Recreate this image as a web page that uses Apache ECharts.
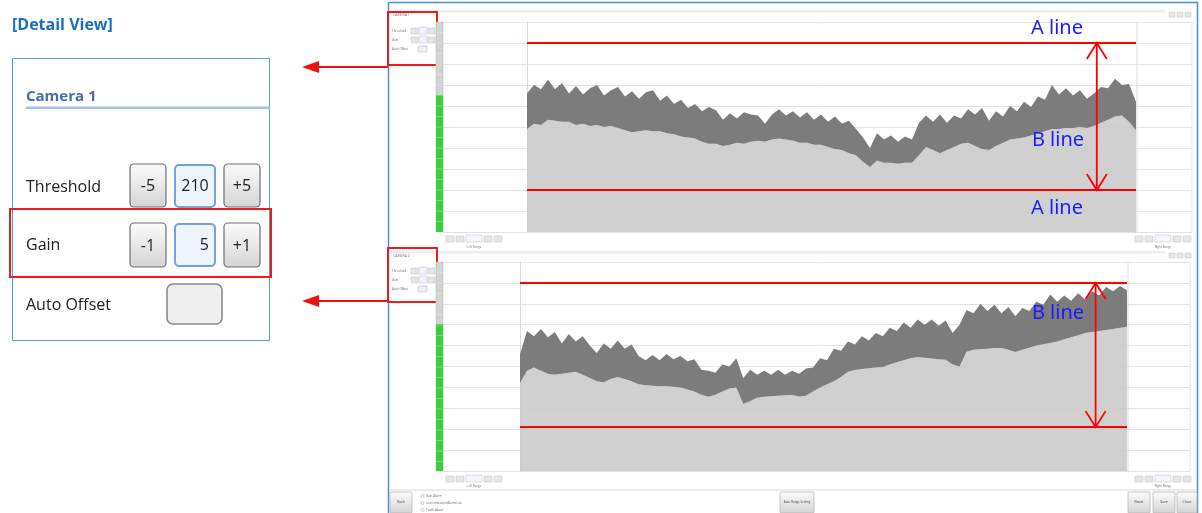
<!DOCTYPE html>
<html><head><meta charset="utf-8">
<script src="https://cdn.jsdelivr.net/npm/echarts@6.0.0/dist/echarts.min.js"></script>
<style>html,body{margin:0;padding:0;background:#fff;}#c{width:1202px;height:513px;}</style>
</head><body><div id="c"></div><script>
// ---- data (y scale 0..100, 10 grid rows) ----
const c1Upper = [66,70,68,72.5,68,71,66,69.5,65.5,68.5,
  70,65,67.5,69,64.5,67,63.5,66.5,67.5,62.5,
  65,61,63,59,61,57.5,59.5,58,53.5,56.5,
  54,57,56,55.5,51.5,56,58.5,55.5,57.5,54.5,
  57,53.5,56,52.5,55,51.5,53,49,45,40,
  47,44,46,43,45.5,44,52,55.5,52.5,56,
  52,55.5,54,58.5,56,59,53,57.5,55,60,
  57.5,62,59.5,64.5,63,70,65.5,68.5,65,67.5,
  63.5,66,69,68.5,73,70,70.5,62];
const c1Lower = [49,51.5,51,53.5,53,52.5,52.5,51,51.5,50.5,
  51,50,50.5,49.5,48.5,47.5,48,48.5,48,48,
  47,46.5,45.5,45,44.5,43,42,42,41,41.5,
  42.5,42,43,43.5,43,44,44.5,44,43.5,42.5,
  42.5,41.5,41.5,40.5,39.5,39,37.5,36.5,33.5,31,
  34,33,33,32.5,33,33,36.5,40.5,39,37.5,
  39,40.5,42,42.5,41,39.5,39,41,42.5,44,
  44.5,45,46,47,48,49,49,49.5,49.5,50,
  49.5,50.5,52,53.5,55,55.5,52.5,48.5];
const c2Upper = [56,67,64.5,68,64,66.5,61,65.5,62,64.5,
  60,56.5,61,58.5,62.5,58.5,60.5,55,53,55.5,
  53,56,53.5,55,52.5,53.5,48.5,48,47,51,
  50,54,44.5,48.5,46,48,46,48.5,46,48,
  46.5,49,49.5,54,53,58.5,57.5,62,60.5,64.5,
  62.5,66,64.5,68.5,67,71,68.5,72.5,70,72.5,
  69.5,72,66,70,77,75.5,80,76.5,79.5,75.5,
  78.5,74,78,76.5,81,79.5,84.5,81,84,81.5,
  85,82,86,84,88,86,88.5,86.5];
const c2Lower = [42,48,49.5,48,46.5,46,46.5,47,47.5,46,
  44.5,43,42.5,44,45,44,43,41.5,41,40.8,
  40.6,40.5,40.3,40,39,38,36.5,35.5,36.5,38,
  39.5,40,32,33.5,35,35.5,35.8,36,36.3,36.4,
  35.6,36,38,40,41.5,43,45,47.5,48.3,48.8,
  49.2,49.5,49.8,51,52,53,54,54.5,54.2,53.8,
  53.5,53.2,51,50,57,58,58.3,58.5,58.8,58.9,
  58,56.9,58,59,60,60.7,61.2,62,63,64,
  65,66,66.5,67,67.5,68,68.5,69];
const aLines1 = [90, 20];
const aLines2 = [90, 21];
const arrowIdx1 = 81.4;
const arrowIdx2 = 82.5;

const cats1 = c1Upper.map((_, i) => String(i));
const cats2 = c2Upper.map((_, i) => String(i));
const band1 = c1Upper.map((v, i) => +(v - c1Lower[i]).toFixed(2));
const band2 = c2Upper.map((v, i) => +(v - c2Lower[i]).toFixed(2));

const chart = echarts.init(document.getElementById('c'));
const split = {show:true, lineStyle:{color:'#e2e2e2', width:1}};
function bgY(g){return {gridIndex:g,type:'value',min:0,max:100,interval:10,axisLine:{show:false},axisTick:{show:false},axisLabel:{show:false},splitLine:split};}
function dataY(g){return {gridIndex:g,type:'value',min:0,max:100,interval:10,axisLine:{show:true,lineStyle:{color:'#d9d9d9'}},axisTick:{show:false},axisLabel:{show:false},splitLine:{show:false}};}
const red = {color:'#ff0000', width:2, type:'solid'};
function ml(vals){return {silent:true,symbol:'none',label:{show:false},lineStyle:red,data:vals.map(v=>({yAxis:v}))};}
function series(xi, lower, band, stack, lines){
  return [
    {type:'line',xAxisIndex:xi,yAxisIndex:xi,data:lower,stack:stack,symbol:'none',lineStyle:{width:0},areaStyle:{color:'#c9c9c9',opacity:0.88},silent:true},
    {type:'line',xAxisIndex:xi,yAxisIndex:xi,data:band,stack:stack,symbol:'none',lineStyle:{width:0},areaStyle:{color:'#7c7c7c',opacity:1},silent:true,markLine:ml(lines)}
  ];
}
chart.setOption({
  animation:false,
  backgroundColor:'#ffffff',
  grid:[
    {left:443,top:22,width:749,height:210},
    {left:527,top:22,width:609,height:210},
    {left:443,top:262,width:747,height:209},
    {left:520,top:262,width:607,height:209}
  ],
  xAxis:[
    {gridIndex:0,type:'value',min:0,max:1,show:false},
    {gridIndex:1,type:'category',data:cats1,boundaryGap:false,show:false},
    {gridIndex:2,type:'value',min:0,max:1,show:false},
    {gridIndex:3,type:'category',data:cats2,boundaryGap:false,show:false}
  ],
  yAxis:[bgY(0),dataY(1),bgY(2),dataY(3)],
  series:[].concat(series(1,c1Lower,band1,'c1',aLines1), series(3,c2Lower,band2,'c2',aLines2))
});

// ---- UI drawing ----
const G = [];
const Z = 50;
function R(x,y,w,h,fill,stroke,lw,r,z){G.push({type:'rect',silent:true,z:z||Z,shape:{x:x,y:y,width:w,height:h,r:r||0},style:{fill:fill||'none',stroke:stroke||'none',lineWidth:lw||0}});}
function L(x1,y1,x2,y2,stroke,lw,z){G.push({type:'line',silent:true,z:z||Z,shape:{x1:x1,y1:y1,x2:x2,y2:y2},style:{stroke:stroke,lineWidth:lw||1}});}
function T(x,y,t,size,fill,opt){opt=opt||{};const a=opt.align||'left';G.push({type:'text',silent:true,z:(opt.z||Z)+1,x:x,y:y,style:{text:t,fill:fill||'#333',font:(opt.weight||'normal')+' '+size+'px '+(opt.family||'"Open Sans", sans-serif'),align:a,textAlign:a,verticalAlign:'middle',textVerticalAlign:'middle'}});}
function P(points,fill,z){G.push({type:'polygon',silent:true,z:z||Z,shape:{points:points},style:{fill:fill}});}
function PL(points,stroke,lw,z){G.push({type:'polyline',silent:true,z:z||Z,shape:{points:points},style:{stroke:stroke,lineWidth:lw,fill:'none'}});}
function grad(){return {type:'linear',x:0,y:0,x2:0,y2:1,colorStops:[{offset:0,color:'#fcfcfc'},{offset:1,color:'#d4d4d4'}]};}
function btn(x,y,w,h,label){R(x,y,w,h,grad(),'#6e6e6e',1.2,4);T(x+w/2,y+h/2+1,label,16,'#222',{align:'center'});}
function valBox(x,y,w,h,label,al){R(x,y,w,h,'#eef4fd','#78a0d9',2,4);if(al==='right')T(x+w-6,y+h/2,label,16,'#222',{align:'right'});else T(x+w/2,y+h/2,label,16,'#222',{align:'center'});}

// Detail view
T(12,25,'[Detail View]',16,'#1b6ec2',{weight:'bold'});
R(12.5,58.5,257,282,'none','#5b9bd5',1);
T(26,97,'Camera 1',15,'#4b6aa6',{weight:'bold'});
R(26,106.5,244,2.5,'#a7c2e6');
T(26,187,'Threshold',16,'#222');
btn(130,164,36,43,'-5'); valBox(175,165,40,42,'210','center'); btn(224,164,36,43,'+5');
T(26,245,'Gain',16,'#222');
btn(130,223,36,44,'-1'); valBox(175,224,40,42,'5','right'); btn(224,223,36,44,'+1');
R(10,209,261,68,'none','#ee1c1c',2);
T(26,305,'Auto Offset',16,'#222');
R(167,284,55,40,'#efefef','#8a8a8a',1.6,6);
// pointer arrows
L(316,67,388,67,'#ee1111',2); P([[302,67],[319,61],[319,73]],'#ee1111');
L(316,301,388,301,'#ee1111',2); P([[302,301],[319,295],[319,307]],'#ee1111');

// window frame
R(388.5,2.5,809,520,'none','#4b91d1',1.5);

function tinyBtn(x,y,w,h,fill){R(x,y,w,h,fill||'#e6e6e6','#bdbdbd',0.5,0.5);}
function chrome(o){
  R(389,o.head,776,2.5,'#eeeeee');
  T(393,o.head+5,o.title,3.5,'#777');
  tinyBtn(1169,o.head+2,6,5); tinyBtn(1177,o.head+2,6,5); tinyBtn(1185,o.head+2,6,5);
  // mini detail panel
  const t=o.plotTop;
  T(392,t+9,'Threshold',3,'#666'); tinyBtn(411,t+6,7,6); tinyBtn(419,t+5,8,7,'#eef4fd'); tinyBtn(428,t+6,7,6);
  T(392,t+18,'Gain',3,'#666'); tinyBtn(411,t+15,7,6); tinyBtn(419,t+14,8,7,'#eef4fd'); tinyBtn(428,t+15,7,6);
  T(392,t+27,'Auto Offset',3,'#666'); R(418,t+24,9,6,'#efefef','#aaa',0.5,1);
  R(388,o.redTop,49,o.redH,'none','#ee1c1c',2);
  // level meter
  R(436,t,7,o.plotBottom-t,'#d3d3d3','#b8b8b8',0.6);
  R(436,o.green,7,o.plotBottom-o.green,'#3ccf3c');
  for(let y=t+10.5;y<o.plotBottom;y+=10.5){L(436,y,443,y,'rgba(255,255,255,0.45)',0.6);}
  // right plot border lines
  L(o.dataRight+1,t,o.dataRight+1,o.plotBottom,'#dcdcdc',1);
  L(o.plotRight,t,o.plotRight,o.plotBottom,'#e4e4e4',1);
  // range controls
  const r=o.row;
  tinyBtn(446,r,8,6); tinyBtn(456,r,8,6); tinyBtn(466,r-1,16,7,'#f2f6fd'); tinyBtn(484,r,8,6); tinyBtn(494,r,8,6);
  T(474,o.label,'Left Range',3,'#777',{align:'center'});
  tinyBtn(1135,r,8,6); tinyBtn(1145,r,8,6); tinyBtn(1155,r-1,16,7,'#f2f6fd'); tinyBtn(1173,r,8,6); tinyBtn(1183,r,8,6);
  T(1163,o.label,'Right Range',3,'#777',{align:'center'});
}
chrome({head:10,title:'CAMERA 1',plotTop:22,plotBottom:232,green:95,dataRight:1136,plotRight:1192,redTop:12,redH:53,row:236,label:247});
chrome({head:251,title:'CAMERA 2',plotTop:262,plotBottom:471,green:324,dataRight:1127,plotRight:1190,redTop:248,redH:54,row:476,label:486});

// bottom bar
L(389,490,1197,490,'#d8d8d8',1);
R(390,492,22,21,grad(),'#b0b0b0',0.7,1); T(401,502,'Back',3.5,'#444',{align:'center'});
[['Gain Alarm',496],['Low Limitation Alarm Line',503],['Tooth Alarm',510]].forEach(function(a){R(421,a[1]-1.5,3,3,'#fff','#999',0.5,1.5);T(426,a[1],a[0],3,'#666');});
R(780,492,34,21,grad(),'#b0b0b0',0.7,1); T(797,502,'Auto Range Setting',3,'#444',{align:'center'});
R(1128,492,22,21,grad(),'#b0b0b0',0.7,1); T(1139,502,'Reset',3.5,'#444',{align:'center'});
R(1153,492,22,21,grad(),'#b0b0b0',0.7,1); T(1164,502,'Save',3.5,'#444',{align:'center'});
R(1177,492,20,21,grad(),'#b0b0b0',0.7,1); T(1187,502,'Close',3.5,'#444',{align:'center'});

// annotations (positions from the axes)
function pxAt(xi, idx, val){
  const i0=Math.floor(idx), f=idx-i0;
  const p0=chart.convertToPixel({xAxisIndex:xi,yAxisIndex:xi},[i0,val]);
  const p1=chart.convertToPixel({xAxisIndex:xi,yAxisIndex:xi},[i0+1,val]);
  return [p0[0]+(p1[0]-p0[0])*f, p0[1]];
}
function dblArrow(xi, idx, top, bot){
  const a=pxAt(xi,idx,top), b=pxAt(xi,idx,bot);
  const x=a[0];
  L(x,a[1],x,b[1],'#ff0000',1.8,100);
  PL([[x-10,a[1]+16],[x,a[1]],[x+10,a[1]+16]],'#ff0000',1.8,100);
  PL([[x-10,b[1]-16],[x,b[1]],[x+10,b[1]-16]],'#ff0000',1.8,100);
}
dblArrow(1,arrowIdx1,aLines1[0],aLines1[1]);
dblArrow(3,arrowIdx2,aLines2[0],aLines2[1]);
const lab={align:'center',family:'"Noto Sans", sans-serif',z:100};
T(1057,28,'A line',20,'#1a1aff',lab);
T(1058,140,'B line',20,'#1a1aff',lab);
T(1057,208,'A line',20,'#1a1aff',lab);
T(1058,313,'B line',20,'#1a1aff',lab);

chart.setOption({graphic:{elements:G}});
</script></body></html>
